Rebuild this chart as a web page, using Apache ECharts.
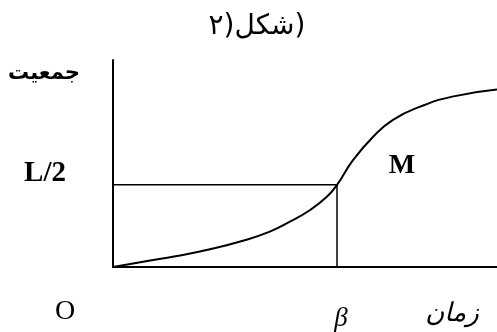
<!DOCTYPE html>
<html>
<head>
<meta charset="utf-8">
<script src="https://cdn.jsdelivr.net/npm/echarts@6/dist/echarts.min.js"></script>
<style>
  html, body { margin: 0; padding: 0; background: #fff; }
  #chart { width: 497px; height: 332px; }
</style>
</head>
<body>
<div id="chart"></div>
<script>
// logistic curve (time, population), L/2 = 50
const timeX = [0, 0.94, 2, 3.03, 4.06, 4.9, 5.53, 6.16, 6.69, 7, 7.5, 8.13, 8.75, 9.6, 10.6, 12];
const popY = [0, 3.2, 6.7, 10.8, 16, 21.5, 27.6, 34.7, 42.9, 50, 65, 79.3, 89.6, 97.6, 103.7, 108];
// guide lines through the inflection point M
const beta = 7;
const halfL = 50;
const guideX = [0, beta, beta];
const guideY = [halfL, halfL, 0];

const chart = echarts.init(document.getElementById('chart'));

const option = {
    animation: false,
    title: {
        text: '\u200E۲\u200E)\u200Eشکل\u200E)',
        left: 252,
        top: 8,
        textAlign: 'center',
        textStyle: { fontFamily: 'DejaVu Sans', fontSize: 28, fontWeight: 'normal', color: '#000' }
    },
    grid: { left: 113, right: 0, top: 60, bottom: 65 },
    xAxis: {
        type: 'value',
        min: 0,
        max: 12,
        axisLine: { show: true, lineStyle: { color: '#000', width: 2 } },
        axisTick: { show: false },
        axisLabel: { show: false },
        splitLine: { show: false }
    },
    yAxis: {
        type: 'value',
        min: 0,
        max: 126,
        axisLine: { show: true, lineStyle: { color: '#000', width: 2 } },
        axisTick: { show: false },
        axisLabel: { show: false },
        splitLine: { show: false }
    },
    series: [
        {
            type: 'line',
            data: guideX.map((x, i) => [x, guideY[i]]),
            symbol: 'none',
            lineStyle: { color: '#000', width: 1.5 }
        },
        {
            type: 'line',
            data: timeX.map((x, i) => [x, popY[i]]),
            symbol: 'none',
            smooth: 0.5,
            lineStyle: { color: '#000', width: 2 }
        }
    ],
    graphic: [
        { type: 'text', x: 44, y: 74, style: { text: 'جمعیت', font: 'bold 21px "DejaVu Sans"', fill: '#000', align: 'center', verticalAlign: 'middle' } },
        { type: 'text', x: 45, y: 174, style: { text: 'L/2', font: 'bold 29px "Liberation Serif"', fill: '#000', align: 'center', verticalAlign: 'middle' } },
        { type: 'text', x: 402, y: 166, style: { text: 'M', font: 'bold 28px "Liberation Serif"', fill: '#000', align: 'center', verticalAlign: 'middle' } },
        { type: 'text', x: 65, y: 312, style: { text: 'O', font: '28px "Liberation Serif"', fill: '#000', align: 'center', verticalAlign: 'middle' } },
        { type: 'text', x: 341, y: 319, style: { text: 'β', font: 'italic 27px "Liberation Serif"', fill: '#000', align: 'center', verticalAlign: 'middle' } },
        { type: 'text', x: 452, y: 314, style: { text: 'زمان', font: 'italic 26px "DejaVu Sans"', fill: '#000', align: 'center', verticalAlign: 'middle' } }
    ]
};

chart.setOption(option);
</script>
</body>
</html>
